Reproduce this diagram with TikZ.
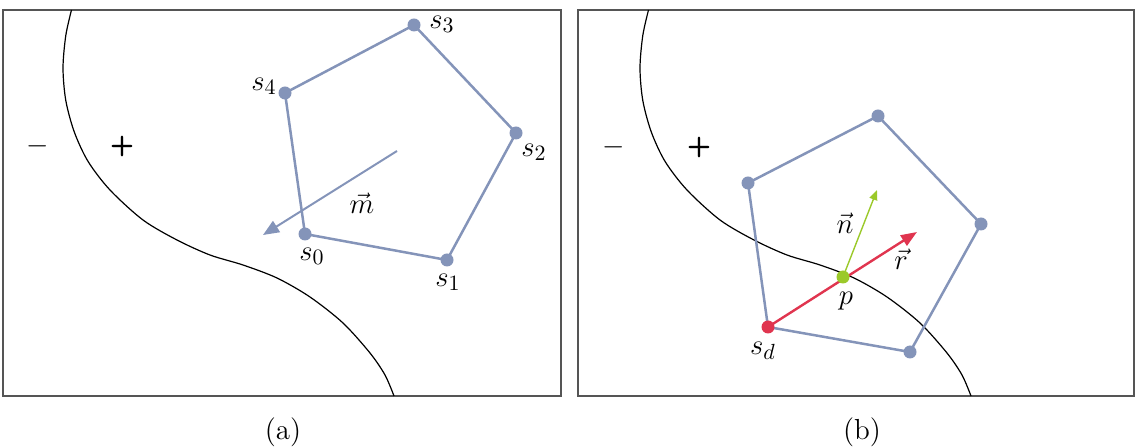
\documentclass[tikz,border=0pt]{standalone}
\usetikzlibrary{arrows.meta}
\definecolor{polyc}{HTML}{8494B9}
\definecolor{redc}{HTML}{E0354F}
\definecolor{greenc}{HTML}{9BC92A}
\definecolor{framec}{HTML}{555555}
\begin{document}
\begin{tikzpicture}[x=0.5pt,y=-0.5pt,
  frame/.style={draw=framec,line width=0.9pt},
  polyline/.style={draw=polyc,line width=1.25pt,line join=round},
  dotb/.style={circle,fill=polyc,inner sep=0pt,minimum size=6.5pt},
  dotr/.style={circle,fill=redc,inner sep=0pt,minimum size=6.5pt},
  dotg/.style={circle,fill=greenc,inner sep=0pt,minimum size=6.5pt},
  lab/.style={inner sep=0pt,font=\fontsize{15}{17}\selectfont},
  sign/.style={inner sep=0pt,font=\fontsize{14}{16}\selectfont},
  captext/.style={inner sep=0pt,font=\fontsize{14.5}{17}\selectfont},
  marrow/.style={draw=polyc,line width=1pt,-{Triangle[length=8pt,width=6.5pt]}},
  rarrow/.style={draw=redc,line width=1.2pt,-{Triangle[length=8pt,width=6pt]}},
  narrow/.style={draw=greenc,line width=0.7pt,-{Triangle[length=5pt,width=4pt]}},
  sepcurve/.style={draw=black,line width=0.6pt}
]
\useasboundingbox (0,0) rectangle (1136,448);
% ---------- panel (a)
\draw[frame] (3,10) rectangle (561,396);
\draw[sepcurve] plot[smooth,tension=0.5] coordinates {(71.5,10) (65.8,35.5) (63,68) (65.8,100.5) (74.3,132) (88.1,161.5) (110,190) (143,220) (177,240) (210,255) (243,265) (277,278) (310,297) (343,323) (370,353) (385,375) (394,396)};
\node[sign] (minusa) at (38,146) {$-$};
\node[sign] (plusa) at (122,147) {\sffamily\bfseries +};
\coordinate (a0) at (305,234);
\coordinate (a1) at (447,260);
\coordinate (a2) at (516,133);
\coordinate (a3) at (414,25);
\coordinate (a4) at (285,93);
\draw[polyline] (a0) -- (a1) -- (a2) -- (a3) -- (a4) -- cycle;
\coordinate (mstart) at (397,151);
\coordinate (mend) at (263,235);
\draw[marrow] (mstart) -- (mend);
\node[dotb] (da0) at (a0) {};
\node[dotb] (da1) at (a1) {};
\node[dotb] (da2) at (a2) {};
\node[dotb] (da3) at (a3) {};
\node[dotb] (da4) at (a4) {};
\node[lab] (la3) at (442,24) {$s_3$};
\node[lab] (la4) at (264,86) {$s_4$};
\node[lab] (la2) at (534,152) {$s_2$};
\node[lab] (la0) at (312,256) {$s_0$};
\node[lab] (la1) at (448,282) {$s_1$};
\node[lab] (lm) at (362,203) {$\vec{m}$};
\node[captext] (capa) at (283,432) {(a)};
% ---------- panel (b)
\draw[frame] (578,10) rectangle (1134,396);
\begin{scope}[shift={(577,0)}]
\draw[sepcurve] plot[smooth,tension=0.5] coordinates {(71.5,10) (65.8,35.5) (63,68) (65.8,100.5) (74.3,132) (88.1,161.5) (110,190) (143,220) (177,240) (210,255) (243,265) (277,278) (310,297) (343,323) (370,353) (385,375) (394,396)};
\end{scope}
\node[sign] (minusb) at (614,147) {$-$};
\node[sign] (plusb) at (699,148) {\sffamily\bfseries +};
\coordinate (b0) at (768,327);
\coordinate (b1) at (910,352);
\coordinate (b2) at (981,224);
\coordinate (b3) at (878,116);
\coordinate (b4) at (748,183);
\draw[polyline] (b0) -- (b1) -- (b2) -- (b3) -- (b4) -- cycle;
\coordinate (rtip) at (917,232);
\coordinate (ntip) at (877,190);
\coordinate (pp) at (843,277);
\draw[rarrow] (b0) -- (rtip);
\draw[narrow] (pp) -- (ntip);
\node[dotb] (db1) at (b1) {};
\node[dotb] (db2) at (b2) {};
\node[dotb] (db3) at (b3) {};
\node[dotb] (db4) at (b4) {};
\node[dotr] (dsd) at (b0) {};
\node[dotg] (dp) at (pp) {};
\node[lab] (lsd) at (763,351) {$s_d$};
\node[lab] (lp) at (846,301) {$p$};
\node[lab] (ln) at (845,223) {$\vec{n}$};
\node[lab] (lr) at (901,259) {$\vec{r}$};
\node[captext] (capb) at (862,432) {(b)};
\end{tikzpicture}
\end{document}
